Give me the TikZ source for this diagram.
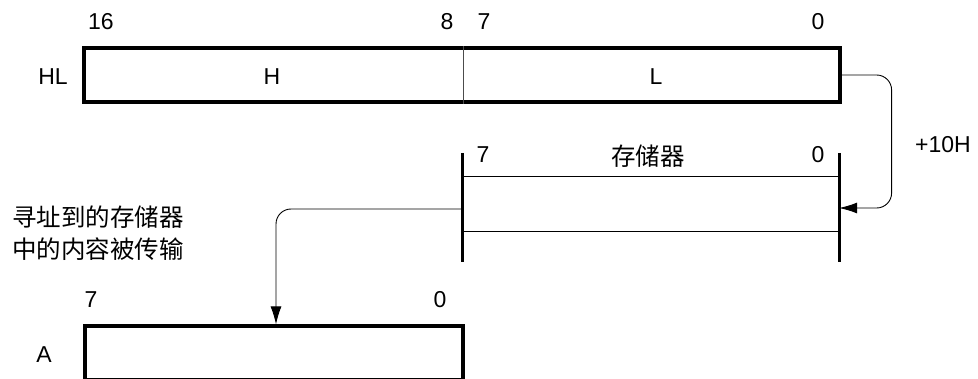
\documentclass[tikz,border=0pt]{standalone}
\usepackage{fontspec}
\setmainfont{Liberation Sans}
\newfontfamily\cjk{Noto Sans CJK SC}
\usetikzlibrary{positioning, calc, arrows.meta}

\begin{document}
\begin{tikzpicture}[
    x=1pt, y=-1pt,
    reg/.style={draw, line width=3.2pt, minimum height=54pt, inner sep=0pt},
    cell/.style={minimum width=376pt, minimum height=54pt, inner sep=0pt},
    bar/.style={line width=3.2pt},
    thinline/.style={line width=0.9pt},
    lbl/.style={font=\fontsize{23}{27}\selectfont, inner sep=0pt},
    cjklbl/.style={font=\fontsize{24.5}{32}\selectfont\cjk, inner sep=0pt, align=left},
    arrow/.style={line width=0.9pt, -{Latex[length=18pt,width=11pt]}, rounded corners=15pt}
]
\useasboundingbox (0,0) rectangle (978,379);

% registers
\node[reg, minimum width=756pt] (hl) at (462,75) {};
\node[reg, minimum width=378pt] (regA) at (274,353) {};
\draw[thinline, black!70] (463,0 |- hl.north) -- (463,0 |- hl.south);

% memory
\node[cell] (mem) at (651,204) {};
\draw[thinline] (mem.north west) -- (mem.north east);
\draw[thinline] (mem.south west) -- (mem.south east);
\draw[bar] ([yshift=24pt]mem.north west) -- ([yshift=-31pt]mem.south west);
\draw[bar] ([yshift=24pt]mem.north east) -- ([yshift=-31pt]mem.south east);

% labels
\node[lbl] (hlname) at (53,77) {HL};
\node[lbl] (hname) at (272,77) {H};
\node[lbl] (lname) at (656,77) {L};
\node[lbl] (b16) at (101,22) {16};
\node[lbl] (b8) at (447,22) {8};
\node[lbl] (b7) at (484,22) {7};
\node[lbl] (b0) at (818,22) {0};
\node[lbl] (m7) at (483,155) {7};
\node[lbl] (m0) at (818,155) {0};
\node[cjklbl] (memname) at (648,156) {存储器};
\node[lbl] (offset) at (943,145) {+10H};
\node[lbl] (aname) at (44,355) {A};
\node[lbl] (a7) at (91,300) {7};
\node[lbl] (a0) at (440,300) {0};
\node[cjklbl, anchor=north west] (note) at (12,206) {寻址到的存储器\\中的内容被传输};

% data flow
\draw[arrow] (hl.east) -- ++(50,0) |- ([yshift=-4pt]mem.east);
\draw[arrow] ([yshift=-5pt]mem.west) -| ([xshift=2pt]regA.north);
\end{tikzpicture}
\end{document}
